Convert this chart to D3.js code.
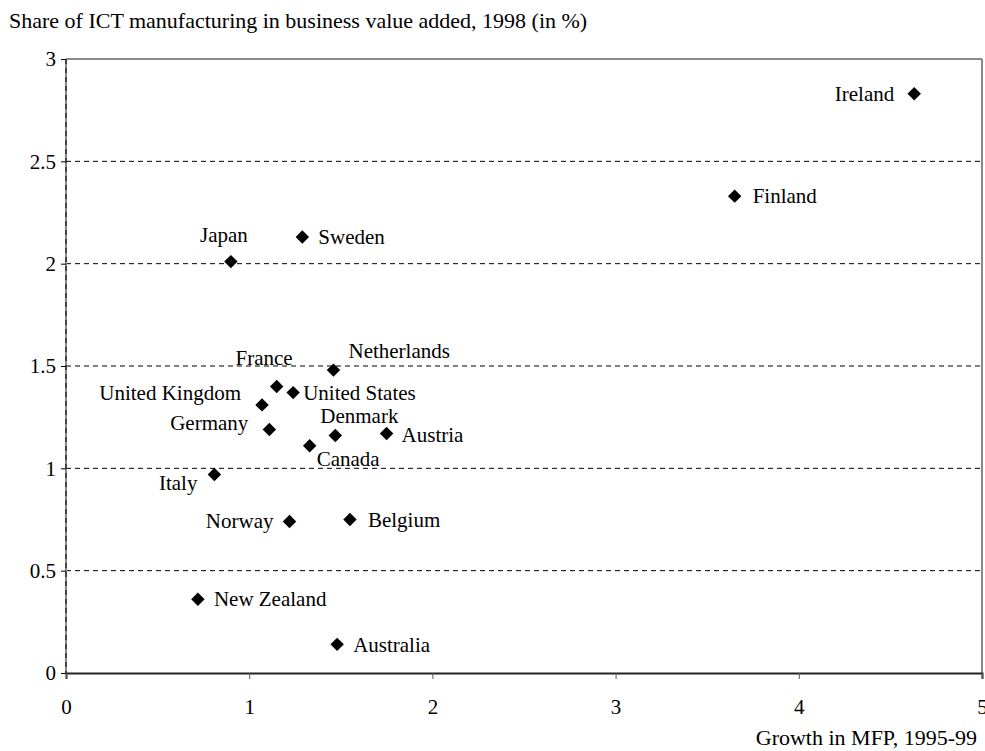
<html>
  <head>
    <script src="https://cdn.jsdelivr.net/npm/d3@7"></script>
    <style>
      body { margin: 0; background: #fff; }
      text { font-family: "Liberation Serif", "Times New Roman", serif; }
    </style>
  </head>

  <body>
    <div id="chart"></div>
  </body>

  <script>
    // data
    const countries = ['Ireland', 'Finland', 'Sweden', 'Japan', 'Netherlands', 'France',
      'United States', 'United Kingdom', 'Germany', 'Denmark', 'Austria', 'Canada',
      'Italy', 'Norway', 'Belgium', 'New Zealand', 'Australia']
    const mfpGrowth = [4.63, 3.65, 1.29, 0.90, 1.46, 1.15, 1.24, 1.07, 1.11, 1.47, 1.75, 1.33,
      0.81, 1.22, 1.55, 0.72, 1.48]
    const ictShare = [2.83, 2.33, 2.13, 2.01, 1.48, 1.40, 1.37, 1.31, 1.19, 1.16, 1.17, 1.11,
      0.97, 0.74, 0.75, 0.36, 0.14]
    const xTicks = [0, 1, 2, 3, 4, 5]
    const yTicks = [0, 0.5, 1, 1.5, 2, 2.5, 3]

    // label placement per country: [dx, dy, anchor]
    const labelPos = {
      'Ireland': [-20, 7, 'end'],
      'Finland': [18, 7, 'start'],
      'Sweden': [16, 7, 'start'],
      'Japan': [-7, -20, 'middle'],
      'Netherlands': [15, -12, 'start'],
      'France': [16, -21, 'end'],
      'United States': [10, 7, 'start'],
      'United Kingdom': [-21, -5, 'end'],
      'Germany': [-21, 1, 'end'],
      'Denmark': [-15, -13, 'start'],
      'Austria': [15, 8, 'start'],
      'Canada': [7, 20, 'start'],
      'Italy': [-17, 16, 'end'],
      'Norway': [-16, 6, 'end'],
      'Belgium': [18, 7, 'start'],
      'New Zealand': [16, 7, 'start'],
      'Australia': [16, 8, 'start']
    }

    const data = countries.map((c, i) => ({name: c, x: mfpGrowth[i], y: ictShare[i]}))

    const W = 985, H = 751
    const margin = {top: 59, right: 3, bottom: 78, left: 66}
    const fs = '21px'

    const svg = d3.select('#chart').append('svg')
      .attr('width', W)
      .attr('height', H)

    const x = d3.scaleLinear().domain([0, 5]).range([margin.left, W - margin.right])
    const y = d3.scaleLinear().domain([0, 3]).range([H - margin.bottom, margin.top])

    // dashed grid lines
    svg.append('g')
      .selectAll('line')
      .data(yTicks.filter(d => d > 0 && d < 3))
      .enter().append('line')
      .attr('x1', x(0)).attr('x2', x(5))
      .attr('y1', d => y(d)).attr('y2', d => y(d))
      .attr('stroke', '#000')
      .attr('stroke-width', 1)
      .attr('stroke-dasharray', '5,4')

    // plot frame: top and right gray
    svg.append('line')
      .attr('x1', x(0)).attr('x2', x(5))
      .attr('y1', y(3)).attr('y2', y(3))
      .attr('stroke', '#888').attr('stroke-width', 2)
    svg.append('line')
      .attr('x1', x(5)).attr('x2', x(5))
      .attr('y1', y(3)).attr('y2', y(0))
      .attr('stroke', '#888').attr('stroke-width', 2)

    // left axis: gray line with black dashes
    svg.append('line')
      .attr('x1', x(0)).attr('x2', x(0))
      .attr('y1', y(3)).attr('y2', y(0))
      .attr('stroke', '#888').attr('stroke-width', 2)
    svg.append('line')
      .attr('x1', x(0)).attr('x2', x(0))
      .attr('y1', y(3)).attr('y2', y(0))
      .attr('stroke', '#000').attr('stroke-width', 1)
      .attr('stroke-dasharray', '5,4')

    // Y axis
    const yAxis = svg.append('g')
      .attr('transform', 'translate(' + x(0) + ',0)')
      .call(d3.axisLeft(y).tickValues(yTicks).tickSize(5).tickPadding(5)
        .tickFormat(d3.format('')))
    yAxis.select('.domain').remove()
    yAxis.selectAll('line').attr('stroke', '#000')
    yAxis.selectAll('text').style('font-size', fs).attr('fill', '#000')

    // X axis
    const xAxis = svg.append('g')
      .attr('transform', 'translate(0,' + y(0) + ')')
      .call(d3.axisBottom(x).tickValues(xTicks).tickSize(6).tickPadding(20)
        .tickFormat(d3.format('d')))
    xAxis.select('.domain').attr('stroke', '#222').attr('stroke-width', 2)
    xAxis.selectAll('line').attr('stroke', '#555')
    xAxis.selectAll('text').style('font-size', fs).attr('fill', '#000')

    // axis titles
    svg.append('text')
      .attr('x', 9).attr('y', 28)
      .style('font-size', '22px')
      .text('Share of ICT manufacturing in business value added, 1998 (in %)')

    svg.append('text')
      .attr('x', 977).attr('y', 745)
      .attr('text-anchor', 'end')
      .style('font-size', '22px')
      .text('Growth in MFP, 1995-99')

    // markers
    const diamond = d3.symbol().type(d3.symbolDiamond2).size(115)
    svg.append('g')
      .selectAll('path')
      .data(data)
      .enter().append('path')
      .attr('d', diamond)
      .attr('transform', d => 'translate(' + x(d.x) + ',' + y(d.y) + ')')
      .attr('fill', '#000')

    // labels
    svg.append('g')
      .selectAll('text')
      .data(data)
      .enter().append('text')
      .attr('x', d => x(d.x) + labelPos[d.name][0])
      .attr('y', d => y(d.y) + labelPos[d.name][1])
      .attr('text-anchor', d => labelPos[d.name][2])
      .style('font-size', fs)
      .text(d => d.name)
  </script>
</html>
